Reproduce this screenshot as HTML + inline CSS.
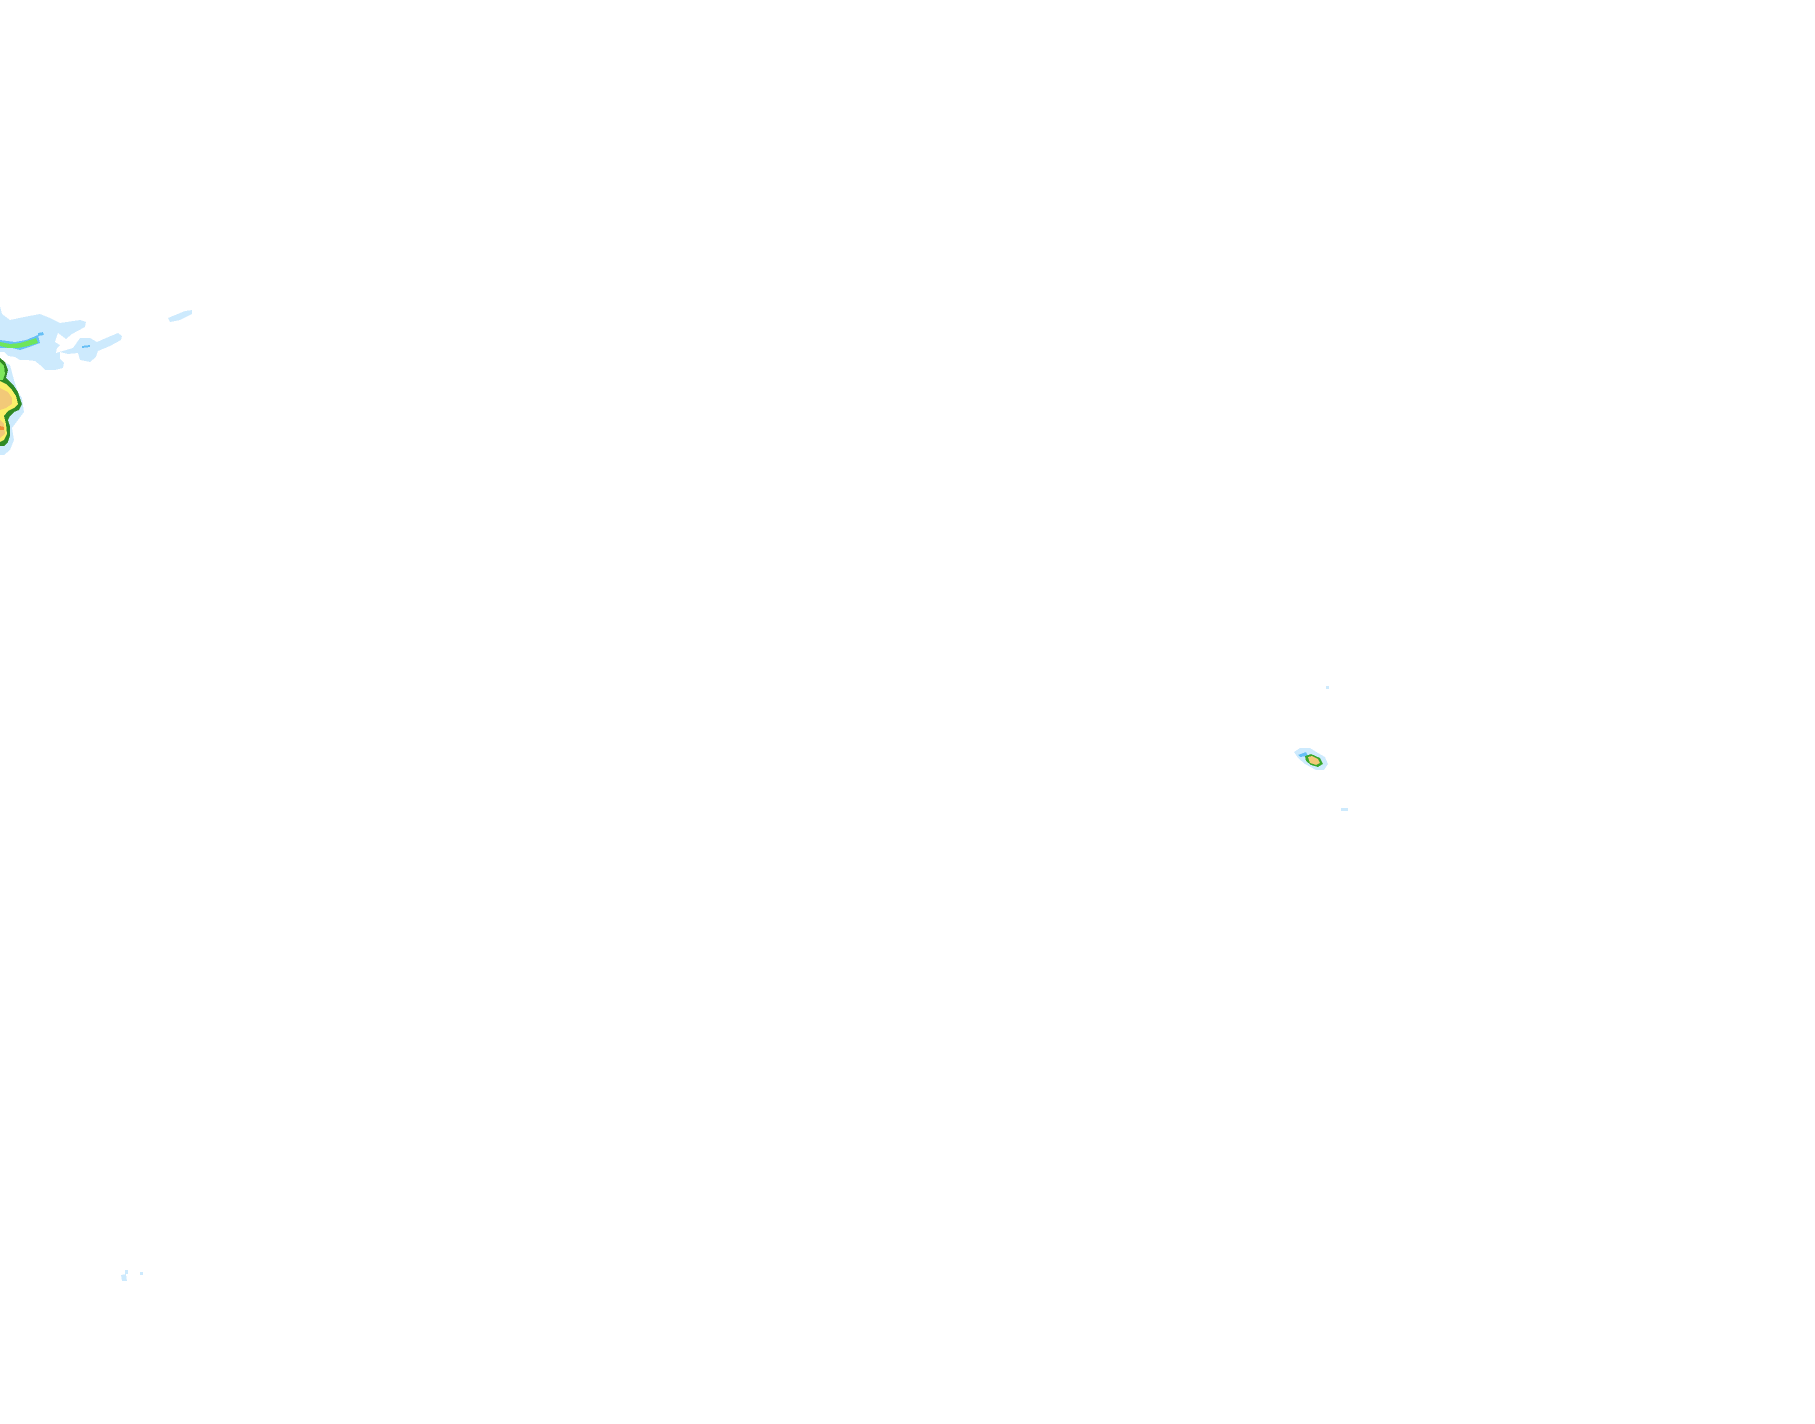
<!DOCTYPE html>
<html><head><meta charset="utf-8"><style>
html,body{margin:0;padding:0;background:#fff;width:1815px;height:1424px;overflow:hidden}
svg{display:block}
</style></head><body>
<svg width="1815" height="1424" viewBox="0 0 1815 1424" xmlns="http://www.w3.org/2000/svg" shape-rendering="crispEdges">
<!-- top-left light blue area -->
<polygon fill="#cdeafd" points="0,306 2,314 10,320 24,317 40,314 50,318 60,323 80,320 86,322 85,327 72,334 66,339 58,333 55,342 60,345 57,348 56,353 73,348 80,338 90,338 97,342 106,338 118,333 122,336 121,340 110,346 98,351 96,357 90,362 80,360 78,353 68,354 60,352 60,359 64,363 63,368 55,370 45,370 40,365 35,361 27,360 20,360 15,357 8,356 4,352 0,352"/>
<polygon fill="#cdeafd" points="168,318 185,311 192,310 192,314 180,320 170,322"/>
<polygon fill="#cdeafd" points="0,360 10,365 14,380 18,392 22,398 24,412 18,420 12,428 14,440 10,450 4,455 0,455"/>
<!-- green/blue streak -->
<polygon fill="#66bff5" points="0,340 15,342 26,340 38,335 40,343 32,346 20,350 12,348 0,348"/>
<polygon fill="#6fe65a" points="0,342 10,344 20,343 30,340 36,338 38,343 28,346 18,348 8,348 0,346"/>
<polygon fill="#66bff5" points="38,333 43,332 44,335 38,336"/>
<polygon fill="#66bff5" points="82,346 90,345 90,347 82,348"/>
<!-- yellow blob with dark green outline -->
<polygon fill="#2f8a25" points="0,358 5,362 8,370 6,378 10,382 14,386 18,392 20,398 22,404 19,410 14,412 10,416 8,420 10,426 10,436 8,442 4,446 0,446"/>
<polygon fill="#7ee85e" points="0,362 4,366 5,374 3,380 0,380"/>
<polygon fill="#fcef6a" points="0,381 6,384 12,390 16,396 18,404 14,408 8,411 4,416 6,424 7,434 4,440 0,442"/>
<polygon fill="#f2c978" points="0,388 8,392 12,398 12,404 6,408 0,410"/>
<polygon fill="#f2c978" points="0,420 4,424 5,434 0,438"/>
<polygon fill="#ee8d3a" points="0,426 4,427 4,430 0,430"/>
<!-- middle-right blob -->
<polygon fill="#cdeafd" points="1294,752 1300,748 1310,748 1318,753 1325,757 1328,764 1324,770 1316,770 1305,764 1298,758"/>
<polygon fill="#66bff5" points="1298,755 1306,752 1308,756 1300,757"/>
<polygon fill="#3aa82c" points="1305,756 1311,754 1320,758 1323,764 1318,767 1311,765 1306,761"/>
<polygon fill="#f2c978" points="1308,757 1312,756 1318,759 1320,763 1316,765 1310,763"/>
<rect x="1326" y="686" width="3" height="3" fill="#cdeafd"/>
<rect x="1341" y="808" width="7" height="3" fill="#cdeafd"/>
<!-- bottom-left specks -->
<rect x="125" y="1270" width="3" height="4" fill="#cdeafd"/>
<polygon fill="#cdeafd" points="121,1275 126,1274 127,1281 122,1281"/>
<rect x="140" y="1272" width="3" height="3" fill="#cdeafd"/>
</svg>
</body></html>
